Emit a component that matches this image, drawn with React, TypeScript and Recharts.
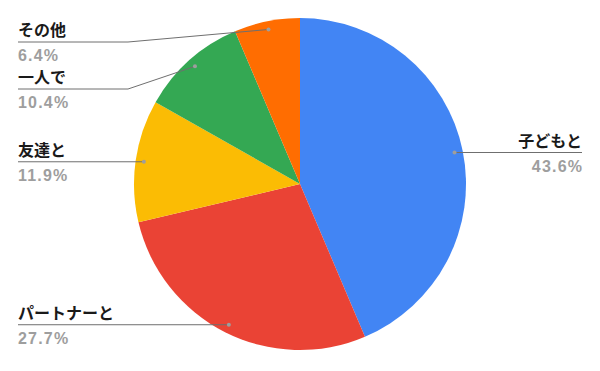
import { Cell, Pie, PieChart } from 'recharts';

const WIDTH = 600;
const HEIGHT = 371;
const CX = 300;
const CY = 184;
const RADIUS = 166;

const categories = ['子どもと', 'パートナーと', '友達と', '一人で', 'その他'];
const shares = [43.6, 27.7, 11.9, 10.4, 6.4];
const colors = ['#4285F4', '#EA4335', '#FBBC04', '#34A853', '#FF6D01'];

const data = categories.map((name, i) => ({ name, value: shares[i] }));

const RADIAN = Math.PI / 180;
const DOT_RADIUS = RADIUS * 0.95;
const LEFT_X = 18;
const RIGHT_X = 582;
const TOP_LINE = 42;
const LABEL_GAP = 47;
const NAME_FONT = 'Roboto, "Noto Sans CJK JP", sans-serif';
const VALUE_FONT = '"Liberation Sans", Arial, sans-serif';

type Anchor = { dotX: number; dotY: number; lineY: number; left: boolean };

// Work out where each leader line lands so stacked labels on one side don't collide.
function layoutLabels(): Anchor[] {
  const total = shares.reduce((a, b) => a + b, 0);
  let acc = 0;
  const anchors: Anchor[] = shares.map((v) => {
    const mid = 90 - ((acc + v / 2) / total) * 360;
    acc += v;
    const dotX = CX + DOT_RADIUS * Math.cos(-mid * RADIAN);
    const dotY = CY + DOT_RADIUS * Math.sin(-mid * RADIAN);
    return { dotX, dotY, lineY: dotY, left: dotX < CX };
  });
  for (const left of [true, false]) {
    const side = anchors.filter((a) => a.left === left).sort((a, b) => a.dotY - b.dotY);
    let prev = -Infinity;
    for (const a of side) {
      a.lineY = Math.max(a.dotY, TOP_LINE, prev + LABEL_GAP);
      prev = a.lineY;
    }
  }
  return anchors;
}

const anchors = layoutLabels();

function renderLabel(props: any) {
  const { index, name, value } = props;
  const a = anchors[index];
  const endX = a.left ? LEFT_X : RIGHT_X;
  const elbowX = a.left ? Math.min(a.dotX, 128) : Math.max(a.dotX, 472);
  const points =
    a.lineY === a.dotY
      ? `${endX},${a.lineY} ${a.dotX},${a.dotY}`
      : `${endX},${a.lineY} ${elbowX},${a.lineY} ${a.dotX},${a.dotY}`;
  const anchor = a.left ? 'start' : 'end';
  return (
    <g key={`label-${index}`}>
      <polyline points={points} fill="none" stroke="#6f6f6f" strokeWidth={1} />
      <circle cx={a.dotX} cy={a.dotY} r={2} fill="#9e9e9e" />
      <text x={endX} y={a.lineY - 6} textAnchor={anchor} fontFamily={NAME_FONT} fontSize={16} fontWeight="bold" fill="#1a1a1a">
        {name}
      </text>
      <text
        x={a.left ? endX : endX + 1.2}
        y={a.lineY + 19}
        textAnchor={anchor}
        fontFamily={VALUE_FONT}
        fontSize={16}
        fontWeight="bold"
        letterSpacing={1.2}
        fill="#9e9e9e"
      >
        {`${value.toFixed(1)}%`}
      </text>
    </g>
  );
}

export default function App() {
  return (
    <div style={{ width: WIDTH, height: HEIGHT, background: '#fff' }}>
      <style>{'body{margin:0}'}</style>
      <PieChart width={WIDTH} height={HEIGHT} margin={{ top: 0, right: 0, bottom: 0, left: 0 }}>
        <Pie
          data={data}
          dataKey="value"
          nameKey="name"
          cx={CX}
          cy={CY}
          outerRadius={RADIUS}
          startAngle={90}
          endAngle={-270}
          stroke="none"
          label={renderLabel}
          labelLine={false}
          isAnimationActive={false}
        >
          {data.map((d, i) => (
            <Cell key={d.name} fill={colors[i]} />
          ))}
        </Pie>
      </PieChart>
    </div>
  );
}
